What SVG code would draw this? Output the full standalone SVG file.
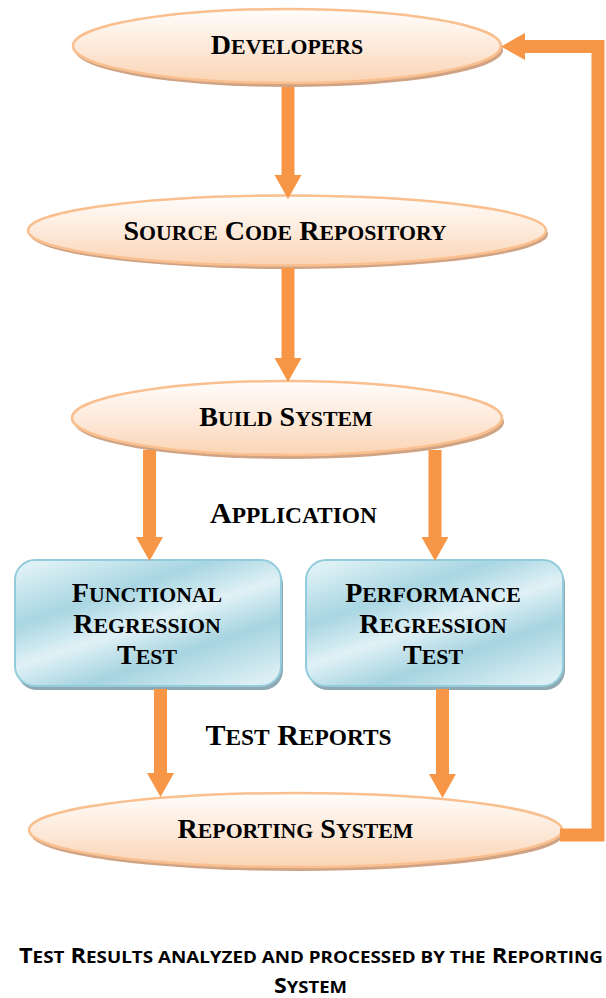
<svg xmlns="http://www.w3.org/2000/svg" width="606" height="998" viewBox="0 0 606 998">
  <style>
    .lbl { font-family: "Liberation Serif", "Times New Roman", serif; font-weight: bold; font-size: 28px; fill: #000; }
    .lbl .sc { font-size: 21.8px; }
    .big { font-family: "Liberation Serif", "Times New Roman", serif; font-weight: bold; font-size: 30px; fill: #000; }
    .big .sc { font-size: 23.4px; }
    .cap { font-family: "Open Sans", "Noto Sans", sans-serif; font-weight: bold; font-size: 21px; fill: #000; }
    .cap .sc { font-size: 16.8px; }
    .ell { fill: url(#gOrange); stroke: #f9bf8f; stroke-width: 2.5; }
    .ellShadow { fill: #cfa384; }
    .box { fill: url(#gBlue); stroke: #93cddd; stroke-width: 2; }
    .boxShadow { fill: #8ea9b2; }
    .conn { fill: none; stroke: #f79646; stroke-width: 13; stroke-linejoin: miter; }
  </style>
  <defs>
    <linearGradient id="gOrange" x1="0" y1="0" x2="0" y2="1">
      <stop offset="0" stop-color="#fffdfb"/>
      <stop offset="0.5" stop-color="#fdeadb"/>
      <stop offset="1" stop-color="#fbd4b4"/>
    </linearGradient>
    <linearGradient id="gBlue" x1="0.15" y1="0" x2="0.85" y2="1">
      <stop offset="0" stop-color="#dcf0f5"/>
      <stop offset="0.28" stop-color="#a8d6e2"/>
      <stop offset="0.5" stop-color="#e0f1f6"/>
      <stop offset="0.72" stop-color="#a6d4e0"/>
      <stop offset="1" stop-color="#dbeff4"/>
    </linearGradient>
    <marker id="ah" markerUnits="userSpaceOnUse" markerWidth="24" markerHeight="27" refX="0" refY="13.5" orient="auto" overflow="visible">
      <path d="M0,0 L24,13.5 L0,27 Z" fill="#f79646"/>
    </marker>
  </defs>

  <g id="developers">
    <ellipse class="ellShadow" cx="289" cy="50" rx="214" ry="37"/>
    <ellipse class="ell" cx="287" cy="46" rx="214" ry="37"/>
    <text class="lbl" x="287" y="53.5" text-anchor="middle">D<tspan class="sc">EVELOPERS</tspan></text>
  </g>

  <g id="source-code-repository">
    <ellipse class="ellShadow" cx="289" cy="234" rx="259" ry="35"/>
    <ellipse class="ell" cx="287" cy="230.5" rx="259" ry="35"/>
    <text class="lbl" x="285" y="240" text-anchor="middle">S<tspan class="sc">OURCE</tspan> C<tspan class="sc">ODE</tspan> R<tspan class="sc">EPOSITORY</tspan></text>
  </g>

  <g id="build-system">
    <ellipse class="ellShadow" cx="289" cy="422" rx="215" ry="37"/>
    <ellipse class="ell" cx="287" cy="418" rx="215" ry="37"/>
    <text class="lbl" x="286" y="426" text-anchor="middle">B<tspan class="sc">UILD</tspan> S<tspan class="sc">YSTEM</tspan></text>
  </g>

  <g id="functional-regression-test">
    <rect class="boxShadow" x="17" y="564" width="266" height="126" rx="20"/>
    <rect class="box" x="15" y="560" width="266" height="126" rx="20"/>
    <text class="lbl" x="147" y="602" text-anchor="middle">F<tspan class="sc">UNCTIONAL</tspan></text>
    <text class="lbl" x="147" y="633" text-anchor="middle">R<tspan class="sc">EGRESSION</tspan></text>
    <text class="lbl" x="147" y="664" text-anchor="middle">T<tspan class="sc">EST</tspan></text>
  </g>

  <g id="performance-regression-test">
    <rect class="boxShadow" x="308" y="564" width="257" height="126" rx="20"/>
    <rect class="box" x="306" y="560" width="257" height="126" rx="20"/>
    <text class="lbl" x="433" y="602" text-anchor="middle">P<tspan class="sc">ERFORMANCE</tspan></text>
    <text class="lbl" x="433" y="633" text-anchor="middle">R<tspan class="sc">EGRESSION</tspan></text>
    <text class="lbl" x="433" y="664" text-anchor="middle">T<tspan class="sc">EST</tspan></text>
  </g>

  <g id="reporting-system">
    <ellipse class="ellShadow" cx="297.5" cy="834" rx="266.5" ry="37"/>
    <ellipse class="ell" cx="295.5" cy="830" rx="266.5" ry="37"/>
    <text class="lbl" x="295.5" y="837.5" text-anchor="middle">R<tspan class="sc">EPORTING</tspan> S<tspan class="sc">YSTEM</tspan></text>
  </g>

  <g id="connectors">
    <line class="conn" x1="288" y1="87" x2="288" y2="175" marker-end="url(#ah)"/>
    <line class="conn" x1="288" y1="268" x2="288" y2="358" marker-end="url(#ah)"/>
    <line class="conn" x1="149.5" y1="450" x2="149.5" y2="537" marker-end="url(#ah)"/>
    <line class="conn" x1="435" y1="450" x2="435" y2="537" marker-end="url(#ah)"/>
    <line class="conn" x1="160.5" y1="689" x2="160.5" y2="773" marker-end="url(#ah)"/>
    <line class="conn" x1="442.5" y1="689" x2="442.5" y2="774" marker-end="url(#ah)"/>
    <path class="conn" d="M560,835 L598,835 L598,46.5 L525,46.5" marker-end="url(#ah)"/>
  </g>

  <g id="edge-labels">
    <text class="big" x="293.5" y="523" text-anchor="middle">A<tspan class="sc">PPLICATION</tspan></text>
    <text class="big" x="298.5" y="745" text-anchor="middle">T<tspan class="sc">EST</tspan> R<tspan class="sc">EPORTS</tspan></text>
  </g>

  <g id="caption">
    <text class="cap" x="311" y="963" text-anchor="middle" textLength="584" lengthAdjust="spacingAndGlyphs">T<tspan class="sc">EST</tspan> R<tspan class="sc">ESULTS ANALYZED AND PROCESSED BY THE</tspan> R<tspan class="sc">EPORTING</tspan></text>
    <text class="cap" x="310.5" y="993" text-anchor="middle" textLength="73" lengthAdjust="spacingAndGlyphs">S<tspan class="sc">YSTEM</tspan></text>
  </g>
</svg>
